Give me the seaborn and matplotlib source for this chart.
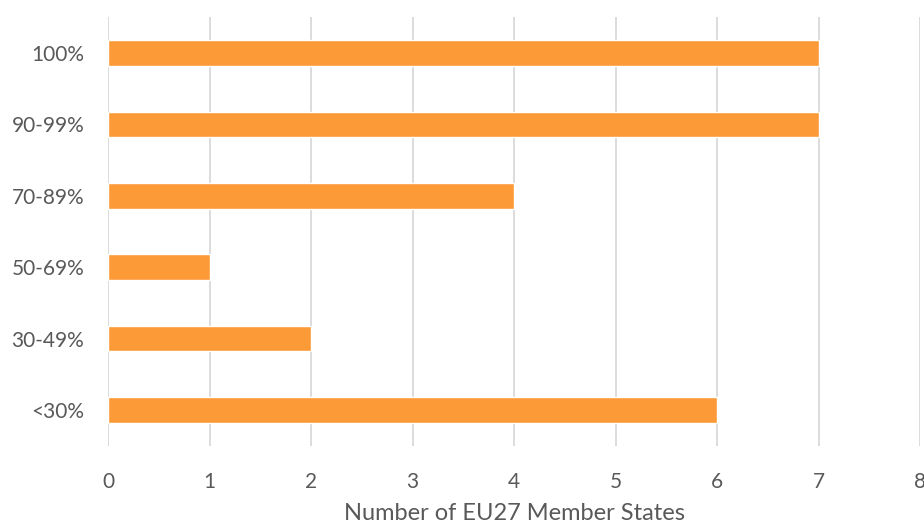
import matplotlib
matplotlib.use("Agg")
import matplotlib.pyplot as plt
import seaborn as sns
import pandas as pd

# share of something per member state, grouped
categories = ["100%", "90-99%", "70-89%", "50-69%", "30-49%", "<30%"]
counts = [7, 7, 4, 1, 2, 6]

BAR_COLOR = "#FD9A38"
GRID_COLOR = "#D9D9D9"
TEXT_COLOR = "#595959"

sns.set_style("white")
plt.rcParams["font.family"] = ["Lato", "DejaVu Sans"]

df = pd.DataFrame({"Range": categories, "Count": counts})

fig = plt.figure(figsize=(9.24, 5.24), dpi=100)
ax = fig.add_axes([108 / 924, 1 - 445.7 / 524, (920 - 108) / 924, (445.7 - 17.3) / 524])

sns.barplot(data=df, x="Count", y="Range", color=BAR_COLOR, width=0.36,
            saturation=1, ax=ax, zorder=3)

ax.set_xlim(0, 8)
ax.set_xticks(range(0, 9))
ax.grid(axis="x", color=GRID_COLOR, linewidth=1.3, zorder=0)
ax.set_axisbelow(True)
for s in ax.spines.values():
    s.set_visible(False)

ax.tick_params(axis="both", length=0, labelsize=15, colors=TEXT_COLOR)
ax.tick_params(axis="y", pad=17)
ax.tick_params(axis="x", pad=19)
ax.set_ylabel("")
ax.set_xlabel("Number of EU27 Member States", fontsize=17, color=TEXT_COLOR, labelpad=8)

fig.savefig("out.png", dpi=100)
